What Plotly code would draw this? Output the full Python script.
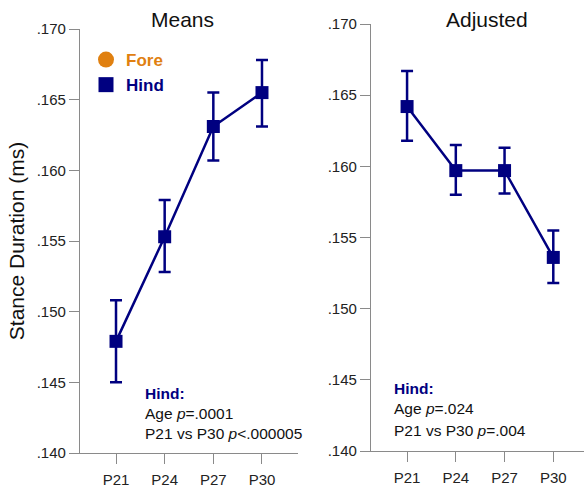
import plotly.graph_objects as go

ages = ["P21", "P24", "P27", "P30"]
means_hind = [0.1479, 0.1553, 0.1631, 0.1655]
means_err_plus = [0.0029, 0.0026, 0.0024, 0.0023]
means_err_minus = [0.0029, 0.0025, 0.0024, 0.0024]
adj_hind = [0.1642, 0.1597, 0.1597, 0.1536]
adj_err_plus = [0.0025, 0.0018, 0.0016, 0.0019]
adj_err_minus = [0.0024, 0.0017, 0.0016, 0.0018]
ytick_vals = [0.140, 0.145, 0.150, 0.155, 0.160, 0.165, 0.170]
ytick_text = [".140", ".145", ".150", ".155", ".160", ".165", ".170"]

W, H = 584, 491
NAVY = "#000080"
ORANGE = "#E08010"
GRAY = "#8a8a8a"
FONT = "Liberation Sans, Arial, sans-serif"

def px(x):
    return x / W

def py(y):
    return 1 - y / H

fig = go.Figure()

# legend-only entries
fig.add_trace(go.Scatter(
    x=[None], y=[None], mode="markers", xaxis="x", yaxis="y",
    marker=dict(symbol="circle", size=16, color=ORANGE),
    name="<b><span style='color:%s'>Fore</span></b>" % ORANGE,
    showlegend=True))
fig.add_trace(go.Scatter(
    x=[None], y=[None], mode="markers", xaxis="x", yaxis="y",
    marker=dict(symbol="square", size=15, color=NAVY),
    name="<b><span style='color:%s'>Hind</span></b>" % NAVY,
    showlegend=True))

fig.add_trace(go.Scatter(
    x=ages, y=means_hind, mode="lines+markers", xaxis="x", yaxis="y",
    line=dict(color=NAVY, width=2.5),
    marker=dict(symbol="square", size=13, color=NAVY),
    error_y=dict(type="data", array=means_err_plus, arrayminus=means_err_minus,
                 color=NAVY, thickness=2.5, width=6),
    showlegend=False))

fig.add_trace(go.Scatter(
    x=ages, y=adj_hind, mode="lines+markers", xaxis="x2", yaxis="y2",
    line=dict(color=NAVY, width=2.5),
    marker=dict(symbol="square", size=13, color=NAVY),
    error_y=dict(type="data", array=adj_err_plus, arrayminus=adj_err_minus,
                 color=NAVY, thickness=2.5, width=6),
    showlegend=False))

xcommon = dict(
    type="category", range=[-0.74, 3.74], showline=True, linecolor=GRAY,
    linewidth=1.3, ticks="outside", ticklen=10, tickcolor=GRAY, tickwidth=1.3,
    showgrid=False, zeroline=False, automargin=False, ticklabelstandoff=3,
    tickfont=dict(size=15, color="#222", family=FONT),
)
ycommon = dict(
    range=[0.140, 0.170], showline=True, linecolor=GRAY, linewidth=1.3,
    ticks="outside", ticklen=10, tickcolor=GRAY, tickwidth=1.3,
    showgrid=False, zeroline=False, tickvals=ytick_vals, ticktext=ytick_text,
    automargin=False, tickfont=dict(size=15, color="#222", family=FONT),
)

fig.update_layout(
    width=W, height=H, margin=dict(l=0, r=0, t=0, b=0, autoexpand=False),
    paper_bgcolor="white", plot_bgcolor="white",
    font=dict(family=FONT, color="#111"),
    xaxis=dict(xcommon, domain=[px(80), px(298)], anchor="y"),
    yaxis=dict(ycommon, domain=[py(453), py(29)], anchor="x",
               title=dict(text="Stance Duration (ms)", font=dict(size=21, family=FONT, color="#111"),
                          standoff=6)),
    xaxis2=dict(xcommon, domain=[px(371), 1.0], anchor="y2", range=[-0.74, 3.63]),
    yaxis2=dict(ycommon, domain=[py(451), py(24)], anchor="x2"),
    legend=dict(x=px(86), y=py(42), xanchor="left", yanchor="top",
                font=dict(size=17, family=FONT), bgcolor="rgba(0,0,0,0)",
                itemwidth=30, tracegroupgap=0),
    showlegend=True,
)

annots = [
    ("Means", px(182), py(20), 21, "#111", "center"),
    ("Adjusted", px(487), py(20), 21, "#111", "center"),
    ("<b>Hind:</b>", px(143), py(393), 15.5, NAVY, "left"),
    ("Age <i>p</i>=.0001", px(143), py(413), 15.5, "#111", "left"),
    ("P21 vs P30 <i>p</i><.000005", px(143), py(433), 15.5, "#111", "left"),
    ("<b>Hind:</b>", px(392), py(388), 15.5, NAVY, "left"),
    ("Age <i>p</i>=.024", px(392), py(408), 15.5, "#111", "left"),
    ("P21 vs P30 <i>p</i>=.004", px(392), py(430), 15.5, "#111", "left"),
]
for text, x, y, size, color, anchor in annots:
    fig.add_annotation(text=text, x=x, y=y, xref="paper", yref="paper",
                       xanchor=anchor, yanchor="middle", showarrow=False,
                       font=dict(size=size, color=color, family=FONT))

fig.write_html("out.html")
